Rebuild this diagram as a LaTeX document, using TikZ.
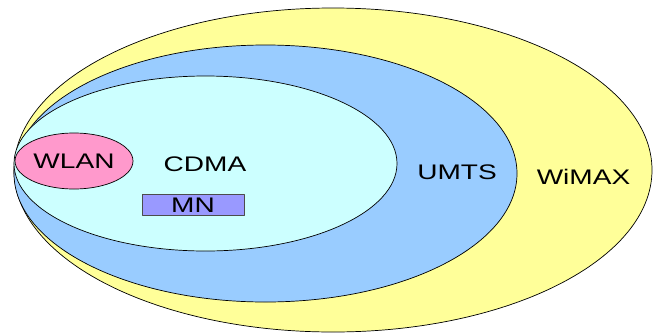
\documentclass[tikz,border=0pt]{standalone}
\usepackage{fontspec}
\setmainfont{Liberation Sans}
\definecolor{wimaxc}{HTML}{FFFF99}
\definecolor{umtsc}{HTML}{99CCFF}
\definecolor{cdmac}{HTML}{CCFFFF}
\definecolor{wlanc}{HTML}{FF99CC}
\definecolor{mnc}{HTML}{9999FF}
\tikzset{
	zone/.style={draw=black, line width=0.6pt},
	lbl/.style={font=\fontsize{18}{20}\selectfont, xscale=1.33, inner sep=0pt}
}
\begin{document}
\begin{tikzpicture}[x=0.03cm, y=-0.03cm, line join=round, line cap=round]
	\useasboundingbox (0,0) rectangle (654,334);
	\coordinate (W) at (333,170);
	\coordinate (U) at (265.5,173.5);
	\coordinate (C) at (205.5,163.5);
	\coordinate (L) at (74,161);
	\filldraw[zone, fill=wimaxc] (W) ellipse [x radius=319, y radius=162];
	\filldraw[zone, fill=umtsc] (U) ellipse [x radius=251.5, y radius=128.5];
	\filldraw[zone, fill=cdmac] (C) ellipse [x radius=191.5, y radius=87.5];
	\filldraw[zone, fill=wlanc] (L) ellipse [x radius=59, y radius=28];
	\node[draw=black!70, fill=mnc, line width=0.5pt, minimum width=3.06cm, minimum height=0.63cm, inner sep=0pt] (mnbox) at (193,204.5) {};
	% Beschriftung
	\node[lbl] (wlan) at (74,161) {WLAN};
	\node[lbl] (cdma) at (205,164) {CDMA};
	\node[lbl] (umts) at (457,172) {UMTS};
	\node[lbl] (wimax) at (583.5,176.5) {WiMAX};
	\node[lbl] (mn) at (193,205.5) {MN};
\end{tikzpicture}
\end{document}
